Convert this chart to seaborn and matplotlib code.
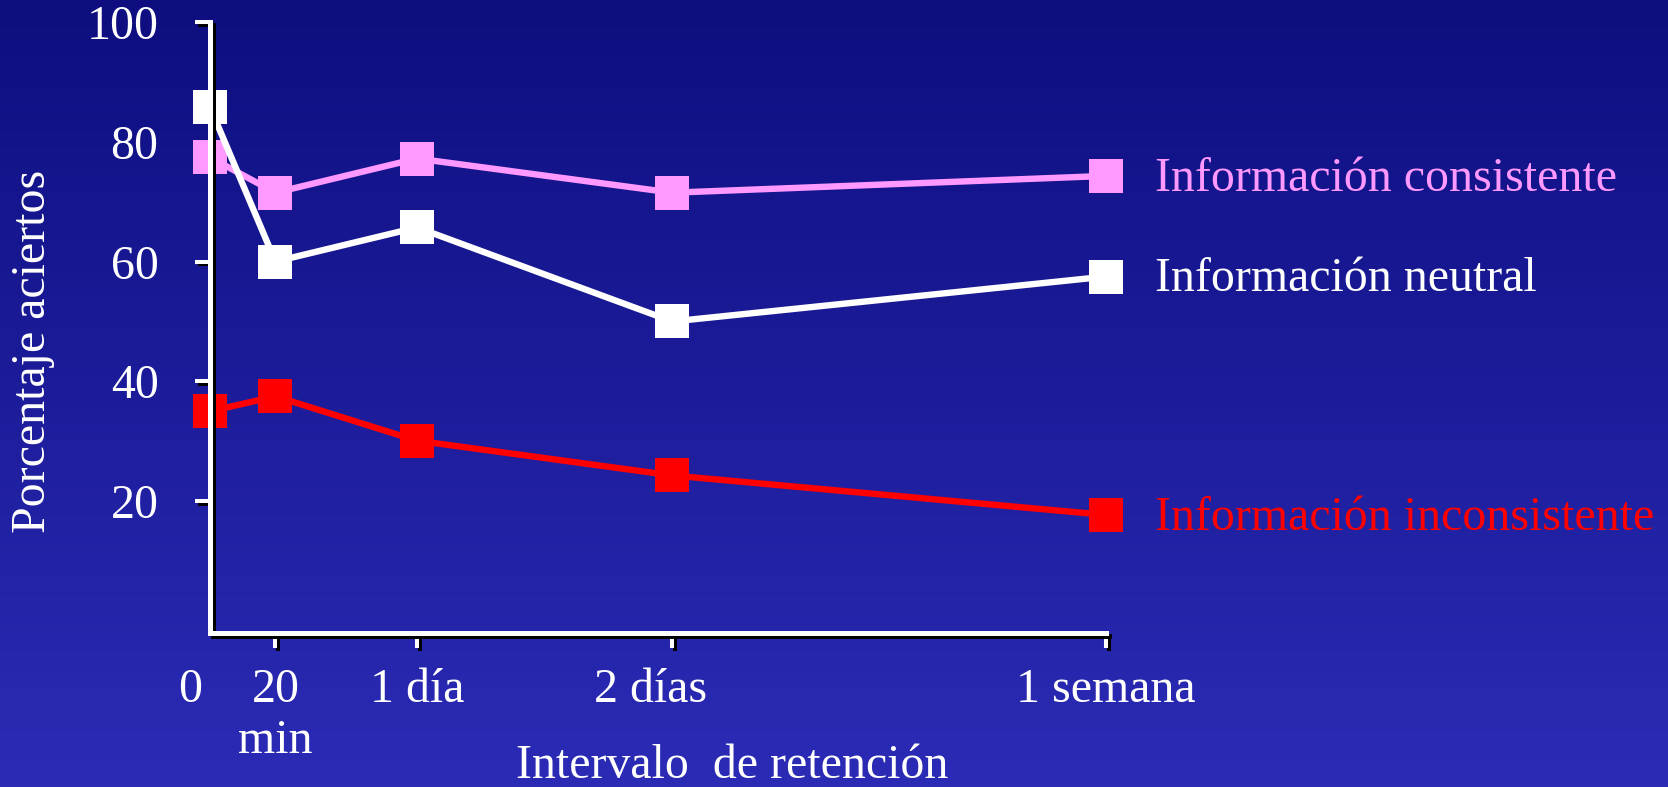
import numpy as np
import pandas as pd
import matplotlib
matplotlib.use("Agg")
import matplotlib.pyplot as plt
import matplotlib.patheffects as pe
from matplotlib.colors import LinearSegmentedColormap
from matplotlib.transforms import ScaledTranslation
import seaborn as sns

INTERVALOS = ["0", "20\nmin", "1 día", "2 días", "1 semana"]
# posición de cada intervalo en el eje horizontal (escala no lineal del original)
POSICION_X = [0.0, 0.73, 2.31, 5.16, 10.0]

CONSISTENTE   = [77.4, 71.5, 77.2, 71.5, 74.3]
NEUTRAL       = [85.8, 60.0, 65.7, 50.0, 57.5]
INCONSISTENTE = [35.0, 37.5, 30.1, 24.3, 17.7]

SERIES  = ["Información consistente", "Información neutral", "Información inconsistente"]
COLORES = ["#ff99ff", "#ffffff", "#ff0000"]
Y_TICKS = [20, 40, 60, 80, 100]

FONDO_ARRIBA = "#0e0e80"
FONDO_ABAJO  = "#2b2bb6"
FS = 34.5


def build_frame():
    rows = []
    for serie, vals in zip(SERIES, [CONSISTENTE, NEUTRAL, INCONSISTENTE]):
        for x, v in zip(POSICION_X, vals):
            rows.append({"serie": serie, "posicion": x, "aciertos": v})
    return pd.DataFrame(rows)


sns.set_style("ticks")
plt.rcParams["font.family"] = ["Liberation Serif", "DejaVu Serif"]

fig = plt.figure(figsize=(16.68, 7.87), dpi=100)

# fondo degradado tipo diapositiva
bg = fig.add_axes([0, 0, 1, 1], zorder=-10)
grad = np.linspace(0, 1, 256).reshape(-1, 1)
bg.imshow(grad, aspect="auto", extent=[0, 1, 0, 1],
          cmap=LinearSegmentedColormap.from_list("fondo", [FONDO_ARRIBA, FONDO_ABAJO]))
bg.axis("off")

ax = fig.add_axes([0.1259, 0.1957, 0.5372, 0.7764])
ax.set_facecolor("none")

df = build_frame()
sns.lineplot(
    data=df, x="posicion", y="aciertos",
    hue="serie", hue_order=SERIES, palette=COLORES,
    style="serie", style_order=SERIES, markers={s: "s" for s in SERIES}, dashes=False,
    markersize=24.5, markeredgewidth=0, linewidth=4.6,
    errorbar=None, legend=False, clip_on=False, ax=ax,
)

for serie, color, vals in zip(SERIES, COLORES, [CONSISTENTE, NEUTRAL, INCONSISTENTE]):
    ax.annotate(serie, xy=(POSICION_X[-1], vals[-1]), xytext=(35, -2),
                textcoords="offset points", ha="left", va="center",
                color=color, fontsize=FS)

ax.set_xlim(0, 10)
ax.set_ylim(-2, 100)
ax.set_xticks(POSICION_X, INTERVALOS)
ax.set_yticks(Y_TICKS)

sns.despine(ax=ax)
shadow = [pe.SimpleLineShadow(offset=(2, -2), shadow_color="black", alpha=1), pe.Normal()]
for side in ["left", "bottom"]:
    ax.spines[side].set_color("white")
    ax.spines[side].set_linewidth(3.6)
    ax.spines[side].set_path_effects(shadow)

ax.tick_params(axis="both", colors="white", width=2.9, length=11, direction="out",
               labelsize=FS, labelcolor="white")
ax.tick_params(axis="y", pad=26)
ax.tick_params(axis="x", pad=14)

for t in ax.xaxis.get_major_ticks() + ax.yaxis.get_major_ticks():
    t.tick1line.set_path_effects(shadow)
# el original no dibuja marca en 0 (eje x) ni en 80 (eje y)
ax.xaxis.get_major_ticks()[0].tick1line.set_visible(False)
ax.yaxis.get_major_ticks()[3].tick1line.set_visible(False)

ax.set_xlabel("Intervalo  de retención", fontsize=FS, color="white")
ax.set_ylabel("Porcentaje aciertos", fontsize=FS, color="white")
ax.xaxis.set_label_coords(0.583, -0.218)
ax.xaxis.label.set_va("center")
ax.yaxis.set_label_coords(-0.197, 0.4615)
ax.yaxis.label.set_va("center")

# pequeños desplazamientos de etiquetas como en el original
labels = ax.get_xticklabels()
for idx, dx in [(0, -20), (3, -22)]:
    lab = labels[idx]
    lab.set_transform(lab.get_transform() + ScaledTranslation(dx / 100, 0, fig.dpi_scale_trans))

fig.savefig("out.png", dpi=100)
plt.close(fig)
